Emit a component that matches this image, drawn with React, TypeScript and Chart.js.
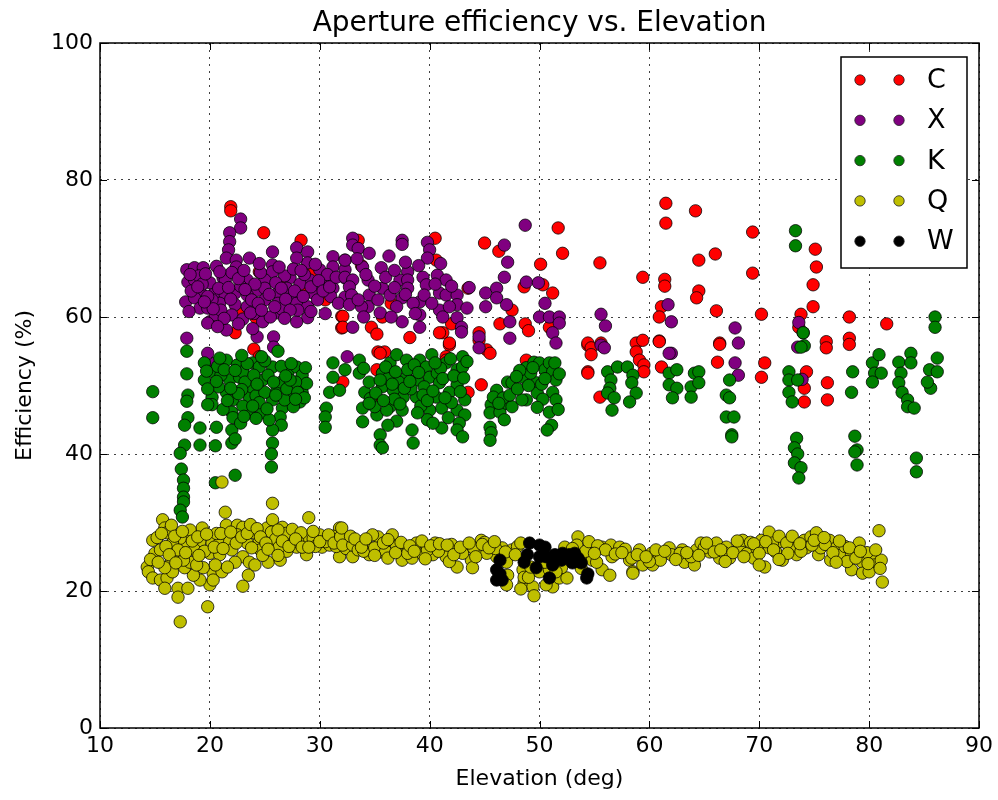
import React, { useEffect, useRef } from "react";
import { Chart, registerables } from "chart.js";
Chart.register(...registerables);

const TITLE = "Aperture efficiency vs. Elevation";
const X_LABEL = "Elevation (deg)";
const Y_LABEL = "Efficiency (%)";
const X_TICKS = [10, 20, 30, 40, 50, 60, 70, 80, 90];
const Y_TICKS = [0, 20, 40, 60, 80, 100];
const SERIES_NAMES = ["C", "X", "K", "Q", "W"];
const SERIES_COLORS = ["#ff0000", "#800080", "#008000", "#bfbf00", "#000000"];

const C_POINTS = [[21.9,76.1],[21.9,75.5],[24.9,72.3],[28.3,71.2],[24.5,66.6],[28.3,63.9],[24.2,59.9],[22.3,57.7],[32,60.1],[32,58.4],[24,55.3],[24.5,54.2],[40.5,71.5],[45,70.8],[46.3,69.6],[51.7,73],[52.1,69.3],[50.1,67.7],[40.6,68.3],[43.5,64.2],[48.6,64.4],[50.3,64.7],[51.2,63.5],[33.5,71.2],[32.1,60.1],[32.1,58.5],[34.7,58.5],[35.2,57.5],[35.7,60],[42,59],[41.2,57.7],[41.8,55.9],[41.5,54.2],[44.5,57.7],[45.2,55.2],[45.5,54.7],[46.4,59],[48.7,59],[50.9,58.5],[35.3,54.9],[35.9,54.9],[35.5,54.7],[35.2,52.3],[34.8,47.9],[40.9,57.7],[41.8,56.2],[41.5,53.7],[43.5,49],[44.7,50.1],[44.5,56.6],[48.8,53.7],[54.4,55.9],[54.4,52],[32.1,50.5],[61.5,76.6],[61.5,73.7],[64.2,75.5],[69.4,72.4],[55.5,67.9],[59.4,65.8],[61.4,65.5],[61.4,64.5],[64.5,68.3],[66,69.2],[69.4,66.4],[64.5,63.8],[64.3,62.8],[66.1,60.9],[70.2,60.4],[75.1,69.9],[75.2,67.3],[74.9,64.7],[74.9,61.5],[73.8,60.4],[61.1,61.5],[60.9,60],[60.9,56.5],[78.2,60],[81.6,59],[76.1,56.4],[76.1,55.5],[78.2,56.9],[78.2,56],[73.6,58.5],[66.4,56.2],[58.8,56.2],[59.4,56.6],[54.4,56.2],[54.7,55.5],[55.6,56.2],[54.7,54.5],[54.4,51.8],[55.5,48.3],[58.8,54.9],[59.1,53.7],[59.5,53],[59.5,52],[60.9,56.4],[61.1,52.7],[66.4,56],[66.2,53.4],[70.5,53.3],[70.2,51.2],[74.3,52],[74.1,49.6],[74.1,47.6],[76.2,50.4],[76.2,47.9],[26.8,64.5],[29.5,66.8],[33.8,67.5],[36.5,62],[38.2,57],[30.5,62.5],[47.5,61],[49,58],[23,60.5]];

const X_POINTS = [[22.8,74.3],[22.8,73],[21.8,72.3],[21.8,71],[21.7,69.8],[21.5,68.6],[22.4,68.3],[23.6,68.6],[22.4,67.3],[20.6,67.4],[25.7,69.5],[25.7,67.6],[25.7,66.6],[27.9,70.1],[28.9,69.5],[28.9,67.9],[27.9,68.6],[31.2,68.8],[32.3,68.3],[31.2,67.3],[17.9,66.9],[18.6,67.2],[19.4,67.2],[18,65.1],[18.6,65.4],[19.1,63.9],[17.8,62.2],[18.6,62.8],[19.1,61.3],[19.8,61.3],[20,59.3],[20.5,60.3],[20.5,63.6],[21.2,65.7],[21.4,63.2],[22.3,63.5],[22.3,61.8],[22,60.3],[23.4,61.5],[23.4,65.4],[24.3,63.9],[25,65.4],[25,64.2],[25,62.5],[26.2,63.5],[26.2,62],[26.1,60.6],[24.8,59.3],[27.3,65.7],[27.4,62.9],[27.9,62],[29.1,65.4],[29.4,63.5],[30,66.9],[30.2,64.7],[30.9,65.4],[31.2,64.2],[28.9,61.5],[28.9,59.9],[27.9,59.3],[23.4,63.2],[20.9,62],[21.4,65.4],[17.9,56.9],[19.8,59.1],[19.8,54.7],[21.5,58.1],[24.3,57.1],[25.8,57.1],[25.8,55.6],[32.5,54.2],[32.3,66.9],[32.3,65.7],[32.3,62.9],[20.5,53.3],[19,66],[20,65],[20.2,62.5],[21,61],[22,66.5],[22.8,64.5],[23.8,62.5],[24,60.5],[24.6,66.5],[26.8,66],[27,64.2],[28.2,64.8],[28,61],[29.8,62.5],[30.5,60.5],[31,63],[26.5,61.2],[25.5,60],[23,59.7],[21.3,59.8],[19.3,64.8],[18.3,63.8],[20.8,64.2],[27.6,67],[29.6,67.7],[30.7,66.2],[24.1,64.8],[26,65],[18.2,66.2],[18.9,64.4],[19.6,66.3],[19.8,63],[20.3,61.2],[20.9,66.6],[21.7,64.3],[21.9,62.6],[22.6,65.6],[23.1,66.8],[23.2,64],[23.7,60.6],[24.4,62],[24.7,61],[25.4,63.3],[25.9,61.5],[26.5,64.2],[26.9,62.6],[27.7,63.8],[27.3,61],[28.5,63],[28.6,66.2],[29.2,64.4],[29.9,65.3],[30.3,63.8],[30.9,64.4],[31.5,65.8],[31.7,62],[19.5,62.2],[18.1,60.8],[20.7,58.6],[22.6,59],[23.9,58.3],[26.8,59.8],[29.2,60.8],[24.5,67.8],[26.3,67.3],[28.3,66.8],[33,71.5],[33,70.5],[33.5,70],[34.5,69.3],[32.3,68.3],[36.3,68.9],[35.6,67.2],[33.9,67.3],[37.5,71.2],[37.5,70.6],[39.8,70.9],[40,69.8],[39.8,68.6],[38,66.6],[40.7,66.1],[39.4,65.8],[41.5,65.4],[37.3,65.4],[38,65.4],[32.3,65.8],[33,65.4],[34.4,65.4],[32.7,64.4],[35.7,64.2],[38,64.2],[39.7,64.7],[36.4,63.2],[34.5,63.2],[32.9,63.2],[37.5,62.8],[39.1,62.2],[40.9,63.5],[41.5,63.2],[42.5,63.2],[42.5,61.8],[43.4,61.3],[40.9,61],[39.1,60.3],[37.5,59.3],[39.1,58.5],[42.5,59.9],[42.9,58.5],[42.9,57.8],[34.4,61.5],[33.8,61.5],[35.5,60.6],[33,58.5],[32.7,61.8],[33.4,68.5],[34.2,66.2],[35,64.5],[35.3,62.5],[36,65.8],[36.8,64.3],[37,61.5],[37.8,63.3],[38.5,62],[38.7,60.5],[39.5,63.2],[40.2,62],[40.5,64.8],[41.2,60],[41.8,61.5],[42,64.5],[36.5,60],[34,60],[33.5,62.5],[37.8,68],[39,67.5],[41,67.8],[36.8,66.8],[43.6,64.3],[44.5,57.1],[44.5,55.5],[46.8,70.5],[47.1,68],[46.8,65.8],[47,61.8],[47.3,59.3],[47.3,56.9],[45.1,63.5],[46.1,64.2],[46.1,62.8],[45.1,61.5],[48.7,73.4],[48.8,65.1],[49.9,65],[50.5,62],[50,60],[50.9,60],[51.8,60],[51.8,59.1],[51.2,57.7],[51.5,56.2],[55.6,60.4],[56,58.7],[55.6,55.9],[55.9,55.5],[61.7,61.8],[62,59.3],[62,54.7],[67.8,58.4],[68.1,56.2],[73.5,55.6],[61.8,54.7],[67.8,53.3],[68.1,51.5],[73.9,50.9],[73.6,59.2],[74,57.7]];

const K_POINTS = [[14.8,49.1],[14.8,45.3],[17.9,55],[17.9,51.7],[18,48.6],[17.9,47.7],[18,45.3],[17.7,44.2],[17.7,41.3],[17.3,40.1],[17.4,37.8],[17.6,36.2],[17.6,35],[17.6,33.7],[17.6,33],[17.3,31.8],[17.5,30.8],[19.1,43.8],[19.1,41.3],[20.6,43.9],[20.5,41.2],[22,43.5],[22,41.6],[22.3,42.2],[22.3,36.9],[20.5,35.8],[19.5,53.3],[19.5,50.8],[20.3,52],[21.5,53.7],[22.5,53],[21.5,49],[20.2,48.3],[20.2,47.2],[21.8,50.8],[22.7,51.2],[22.1,47.9],[22,46.1],[22.1,45.3],[23.6,48.3],[23.6,46],[23.8,49.8],[23.9,53.3],[24.5,52.7],[24.8,46],[24.8,50.8],[25.7,52.7],[26.1,49.3],[25.7,47.9],[26.6,46.7],[26.4,45.4],[26.5,44.2],[25.7,43.5],[25.7,41.6],[25.6,40],[25.6,38.1],[26.2,55],[27.1,51.8],[27.5,48.3],[27.9,52.7],[28.4,51.5],[28.4,49],[28.2,47.6],[27.6,46.9],[26.8,47.9],[31.2,53.3],[31.2,51.2],[30.9,49],[30.6,46.7],[30.5,45.4],[30.5,43.9],[31.8,49.3],[32.3,52.3],[21,51.5],[20.8,49.8],[23,52],[23.2,50.5],[24.2,48.5],[24,51.5],[25,49],[25.3,51.5],[26.5,50.5],[27,49.5],[21.2,46.5],[23,47],[24.5,47.5],[28.8,50.3],[19.8,49.5],[22.8,44.5],[27.8,50.5],[25.4,45],[20.7,52.8],[21.3,52.3],[22.3,52.2],[22.9,49.4],[23.4,53.2],[24.3,50.2],[25,53.6],[25.8,50.5],[26.5,52.8],[27.3,50.8],[28,49],[28.6,48.2],[21.6,47.8],[22.6,48.8],[23.9,47],[24.2,45.2],[25.2,46.6],[26,48.6],[26.9,51.4],[27.8,48],[20.6,50.6],[21.9,49.6],[23.1,45.5],[19.7,52.1],[28.7,52.6],[27.4,53.2],[24.7,54.2],[22.9,54.4],[20.9,54],[19.8,47.2],[33.6,53.7],[33.6,51.8],[34.1,49],[33.9,46.7],[33.9,44.7],[35.5,42.8],[35.5,41.3],[35.7,40.9],[35.7,51.8],[35.7,49.8],[35.2,45.7],[36.4,53.3],[37,54.5],[37.9,53.7],[36.7,49.3],[37.6,48.3],[36.4,46.9],[37.5,46.4],[38.4,43.5],[38.5,41.6],[39.1,53.7],[38.9,50.8],[38.8,48.3],[39.7,52.7],[40,51.2],[40.2,54.5],[40.7,51.8],[40.6,48.3],[41.1,46.7],[41.1,43.8],[40,46.4],[41.5,53.3],[40.9,50.4],[42.5,52.3],[43,54.2],[43,52.7],[42.5,50.1],[43.2,47.9],[42.5,46.4],[43.2,45.7],[42.7,44.5],[42.5,43.5],[43,42.5],[37.9,51.2],[36.1,46.4],[35,46.9],[36.2,51],[37.2,50.5],[38.3,49.5],[39.5,49.8],[41.8,49],[39.2,47],[36.8,48],[38,52.3],[41,52.5],[42,47.5],[34.5,50.5],[39.8,45],[34,52.5],[34.6,48.1],[35.1,48.9],[35.5,50.8],[36,52.7],[36.6,50.2],[36.9,52],[37.3,47.3],[37.7,49.6],[38.2,50.6],[38.6,53],[39,51.9],[39.4,48.6],[39.8,47.8],[40.3,49.2],[40.5,53.3],[41.2,51],[41.4,48.2],[41.9,53.9],[42.2,51.4],[42.8,49.1],[43.1,51.1],[37,44.8],[38.9,46],[40.3,44.5],[41.7,45.3],[36.2,44.2],[34.5,47.4],[35.8,47.8],[43.4,53.5],[45.6,47.2],[45.5,46],[45.5,43.9],[45.6,43.1],[45.5,42],[46.1,49.3],[46.4,46.1],[46.8,45],[47.1,50.5],[47.5,50.4],[47,47.4],[47.5,46.9],[48.8,52.6],[48.5,51.2],[48.8,47.9],[48.4,47.9],[49.5,53.4],[50,53.3],[50.5,52.3],[49.7,50.4],[49.8,48.9],[50.9,53.3],[51.2,52],[51.5,50.8],[51.2,49],[51.5,47.9],[50.9,46.1],[51.1,44.2],[50.7,43.5],[49.2,51.8],[50.2,50.2],[45.8,48.3],[46.7,48.2],[47.3,48.6],[48,49.5],[48.2,52.2],[49,50],[49.4,52.6],[50.3,48],[50.5,51],[51.4,53.3],[51.8,51.7],[49.8,46.8],[47.9,51.3],[46.3,47.4],[51.7,46.5],[56.2,52],[56.5,50.8],[56.4,49.6],[56.2,48.9],[56.8,48.2],[56.6,46.4],[57.1,52.7],[58,52.7],[58.5,51.5],[58.4,50.4],[58.8,48.9],[58.2,47.6],[61.8,51.8],[62.5,52.3],[61.8,50.1],[62.5,49.6],[62.1,48.2],[64.1,51.8],[64.5,52],[63.8,49.8],[64.5,50.4],[63.8,48.3],[67.3,50.8],[67,48.6],[67.3,48.2],[67,45.4],[67.7,45.4],[67.5,42.8],[67.5,42.5],[72.7,52],[72.7,50.8],[73.5,50.8],[72.7,49],[73,47.6],[73.4,42.3],[73.2,40.9],[73.5,40],[73.2,38.7],[73.8,38],[73.6,36.5],[78.5,52],[78.4,49],[78.7,42.6],[78.9,40.6],[78.7,40.3],[78.9,38.4],[80.3,53.3],[80.9,54.5],[80.5,51.8],[80.3,50.5],[81.1,51.8],[82.7,53.4],[82.9,51.8],[82.7,50.4],[83.8,54.7],[83.8,53.3],[83,49],[83.5,47.9],[83.5,46.9],[84.1,46.7],[84.3,39.4],[84.3,37.4],[85.5,52.3],[86.2,54],[86.2,52],[85.6,49.6],[85.3,50.5],[73.3,72.6],[73.3,70.4],[86,60],[86,58.5],[74,57.7],[74.1,55.8],[73.8,55.6]];

const Q_POINTS = [[21.4,31.5],[25.7,32.8],[29,30.7],[15.7,30.4],[15.9,29.2],[14.8,27.4],[15,25.5],[14.3,23.5],[14.4,22.8],[14.8,21.9],[15.5,21.6],[16.1,21.9],[15.9,20.4],[17.1,20.4],[17.1,19.1],[18,20.4],[17.3,15.5],[19.8,17.7],[20,20.9],[20.3,22.6],[19.4,23.4],[19.1,21.6],[18.5,22.3],[17.7,23.4],[16.5,24.2],[17,25.5],[17.9,26.7],[18,28.5],[17.3,27.7],[16.6,27],[16.1,28.5],[15.5,26],[19.1,27.2],[19.3,29.2],[20.2,27],[20,25.5],[20.9,25.3],[20.9,27],[21.5,29.6],[22.5,29.6],[23,29.3],[22.5,28.2],[23.4,27],[23,25],[23.6,24.2],[23.5,22.3],[23,20.7],[24.1,23.8],[24.5,27.4],[25.2,29.2],[25.7,30.4],[25.6,28.6],[25.7,27],[25.3,24.2],[26.4,24.5],[26.6,29.3],[27.1,27.4],[27.9,26.4],[28.9,27.7],[28.8,25.3],[30,28.2],[30.2,26.4],[31.8,29.2],[31.8,25],[30.9,26.7],[32.5,27.4],[18.2,24.2],[18.8,23.8],[16.6,22.8],[15.9,23.4],[17.6,24.5],[16.5,29.6],[18.2,28.9],[17.1,26],[21.1,22.8],[20.5,23.8],[20.3,21.6],[21.1,35.9],[15.2,27.8],[16,26.5],[16.8,28],[18.6,26],[19.5,25.8],[21.8,27.2],[22,26],[24,28.5],[24.6,26],[26,27.6],[26.9,28.4],[27.5,29],[28.3,28.5],[29.4,27.6],[29.6,26.5],[30.5,27.2],[31.2,28],[31.5,26.5],[27,25.8],[22.3,24.2],[21.6,23.5],[24.8,25.2],[28,27.2],[26.3,26.4],[23.8,26.3],[20.6,28.4],[14.6,24.6],[15.3,24.2],[15.6,28.4],[16.3,25.3],[16.9,24.1],[17.5,28.7],[17.8,25.6],[18.4,27.3],[18.9,27.9],[19,25.2],[19.7,28.3],[20.4,26.4],[21.2,26.2],[21,28.4],[21.9,28.6],[22.4,27],[22.9,27.9],[23.4,28.4],[23.7,29.7],[24.3,29.1],[24.6,27.9],[25.1,27],[25.3,26.1],[26.2,28.9],[26.6,27.3],[26.2,25.2],[27.2,26.5],[27.8,27.6],[28.4,26.4],[29,26.4],[29.4,28.7],[30,27.2],[30.8,28.2],[31.3,27],[31.9,27.9],[32.4,26.2],[32,29.2],[32.1,26.7],[33,25],[33,26.7],[33.9,27.2],[34.5,26.4],[35.3,27.9],[34.5,25.3],[35.5,25.7],[36.6,28.2],[36.6,26.7],[37.5,24.5],[37.9,26.3],[39.1,26.3],[38.4,24.8],[39.4,25.3],[40.5,27],[40.3,25.3],[41.2,26.3],[41.5,25],[42.5,26],[42.5,23.5],[43.4,26.4],[43.8,24.5],[43.9,23.4],[44.7,27.4],[44.5,25.7],[45.7,26.7],[46.1,25],[46.6,26.3],[47,24.2],[47.1,22.3],[47,20.9],[47.5,26],[48.5,23.1],[48.6,21.2],[49.4,20.6],[49.5,19.3],[48.6,22],[50,22.8],[50.9,23.1],[51.2,20.6],[51.8,21.9],[52.5,21.9],[52,23.4],[53.5,27.9],[53.4,26.7],[53.9,25.3],[54.8,26.3],[55.7,26.4],[55.7,23.1],[56.5,26.7],[56.6,25],[57.3,26.4],[56.4,22.3],[58.2,24.5],[58.5,22.8],[54.8,24.5],[33.5,26],[34,25.8],[35,26.3],[36,25.8],[37,26.5],[38,25.5],[39.8,26],[40.8,25.8],[42,26.8],[43,25.5],[44,26.3],[45.2,25.5],[46,26.2],[36.2,24.8],[41.8,24.3],[38.8,27],[48,26.5],[45,27.1],[32.8,28],[34.8,28.2],[33.2,27.6],[33.8,26.4],[34.2,27.6],[35,25.2],[35.8,27],[36.2,27.5],[36.9,25.6],[37.4,27.1],[38.2,26.6],[38.6,25.8],[39.3,27.3],[39.6,24.7],[40.1,26.6],[40.9,26.9],[41.6,26.7],[42.2,25.3],[42.8,26.4],[43.6,27],[44.2,25],[44.8,26.8],[45.4,26.3],[45.9,27.2],[46.9,25.7],[47.8,25.3],[48.3,27],[52.3,26.4],[53,26.2],[54.2,25.8],[54.5,27.2],[55.3,26.6],[56,26],[56.9,25.4],[57.8,26.1],[55.2,24.2],[53.8,23.3],[48.3,20.3],[50.6,20.9],[49,22],[51.5,22.8],[58.4,24.8],[58.5,22.6],[59.1,26],[59.4,23.8],[60.2,25.5],[60.3,23.8],[60.9,25],[61.8,26.3],[62,25.3],[63,26],[63.2,24.2],[64.1,23.8],[64.3,26],[64.7,27],[65.5,25.7],[66.1,27],[66.4,24.8],[67,26.4],[67.3,24.8],[68.2,26.4],[68.5,27.4],[68.9,25.5],[69.5,24.8],[70.2,27.4],[70.9,28.6],[70.5,23.5],[70.9,26.3],[71.5,25.7],[72.1,27.2],[72.1,24.5],[73.2,27],[73.4,25.3],[74.1,27.4],[74.7,27.9],[75.2,28.5],[75.4,25.3],[75.6,26.3],[76.4,27.4],[76.5,24.5],[77,26.3],[77.5,25.3],[78.4,25.3],[78.4,23.1],[79.1,27],[79.4,24.2],[79.4,22.6],[80.2,25.3],[80.5,23.8],[80.9,28.8],[81.1,24.5],[81.2,21.3],[80,22.8],[61,24.5],[62.8,25.5],[65,26.3],[66.8,25.6],[69.8,26.2],[71.2,27],[72.8,26.3],[74.3,26.3],[76,26.8],[77.8,26.5],[73.8,25.8],[69.2,27.1],[78,24.3],[79.8,25.6],[60,24.3],[63.8,25],[57.5,25.6],[55,25.5],[52.8,24.5],[50.5,24.2],[49.2,23.5],[58.9,25.3],[59.7,25],[60.6,26],[61.4,25.8],[62.4,24.6],[63.4,25.6],[64.5,25.2],[65.2,27],[65.9,25.7],[66.5,26],[67.6,25.6],[68,27.3],[68.6,25],[69.5,26.9],[70,25.5],[70.6,27.2],[71.3,26],[71.8,28],[72.5,27],[72.6,25.5],[73,28],[73.7,26.9],[74.8,26.7],[75,27.4],[75.9,27.8],[76.7,25.6],[77.3,27.3],[78.2,26.3],[78.8,24.8],[79.2,25.8],[80.6,26],[81,23.3],[79.9,24],[77,24.2],[71.8,24.6],[70,23.8],[66.9,24.3]];

const W_POINTS = [[49.1,27],[48.9,25.3],[48.6,24.2],[46.4,24.5],[46.1,23.1],[46.1,21.6],[46.6,21.6],[50,26.7],[50.5,26.4],[50,25],[50.6,25],[51.4,25.3],[52.1,25.5],[52.7,25.3],[53.5,24.8],[53,24.1],[53.8,24.1],[50.9,21.9],[54.3,21.9],[49.7,23.4],[51.2,23.8],[52,24.5],[46.4,22.5],[51.7,24.8],[53.2,25.5],[54.4,22.5]];

const SERIES_POINTS = [C_POINTS, X_POINTS, K_POINTS, Q_POINTS, W_POINTS];

const FONT = "'DejaVu Sans', 'Liberation Sans', sans-serif";

const framePlugin = {
  id: "frame",
  afterDatasetsDraw(chart: any) {
    const { ctx, chartArea: a, scales } = chart;
    ctx.save();
    ctx.strokeStyle = "#000";
    ctx.lineWidth = 1;
    const tl = 7;
    ctx.beginPath();
    for (const v of X_TICKS) {
      const x = Math.round(scales.x.getPixelForValue(v)) + 0.5;
      ctx.moveTo(x, a.bottom); ctx.lineTo(x, a.bottom - tl);
      ctx.moveTo(x, a.top); ctx.lineTo(x, a.top + tl);
    }
    for (const v of Y_TICKS) {
      const y = Math.round(scales.y.getPixelForValue(v)) + 0.5;
      ctx.moveTo(a.left, y); ctx.lineTo(a.left + tl, y);
      ctx.moveTo(a.right, y); ctx.lineTo(a.right - tl, y);
    }
    ctx.stroke();
    ctx.lineWidth = 1.5;
    ctx.strokeRect(a.left, a.top, a.right - a.left, a.bottom - a.top);

    const bx = 841, by = 57, bw = 126, bh = 211;
    ctx.fillStyle = "#fff";
    ctx.fillRect(bx, by, bw, bh);
    ctx.lineWidth = 1.5;
    ctx.strokeRect(bx, by, bw, bh);
    ctx.font = `27px ${FONT}`;
    ctx.textBaseline = "middle";
    ctx.textAlign = "left";
    SERIES_NAMES.forEach((name, i) => {
      const y = 80 + i * 40.3;
      for (const mx of [860, 899]) {
        ctx.beginPath();
        ctx.arc(mx, y, 5.2, 0, Math.PI * 2);
        ctx.fillStyle = SERIES_COLORS[i];
        ctx.fill();
        ctx.lineWidth = 0.8;
        ctx.strokeStyle = "#222";
        ctx.stroke();
      }
      ctx.fillStyle = "#000";
      ctx.fillText(name, 927, y + 1);
    });
    ctx.restore();
  },
};

export default function App() {
  const ref = useRef<HTMLCanvasElement>(null);
  useEffect(() => {
    document.body.style.margin = "0";
    const canvas = ref.current!;
    Chart.defaults.font.family = FONT;
    Chart.defaults.color = "#000";
    const order = [5, 4, 3, 2, 1];
    const chart = new Chart(canvas, {
      type: "scatter",
      data: {
        datasets: SERIES_NAMES.map((name, i) => ({
          label: name,
          data: SERIES_POINTS[i].map(([x, y]) => ({ x, y })),
          backgroundColor: SERIES_COLORS[i],
          borderColor: "rgba(0,0,0,0.85)",
          borderWidth: 0.9,
          pointRadius: 6.2,
          order: order[i],
        })),
      },
      options: {
        animation: false,
        responsive: false,
        devicePixelRatio: 1,
        layout: { padding: { top: 0, right: 18, bottom: 0, left: 0 } },
        plugins: {
          legend: { display: false },
          tooltip: { enabled: false },
          title: {
            display: true,
            text: TITLE,
            fullSize: false,
            color: "#000",
            font: { size: 28, weight: "normal", family: FONT },
            padding: { top: 7, bottom: 2.4 },
          },
        },
        scales: {
          x: {
            type: "linear",
            min: 10,
            max: 90,
            afterBuildTicks: (s: any) => { s.ticks = X_TICKS.map((v) => ({ value: v })); },
            afterFit: (s: any) => { s.height = 72; },
            ticks: { font: { size: 22 }, padding: 5, color: "#000", maxRotation: 0 },
            grid: { color: "rgba(0,0,0,0.75)", lineWidth: 1, drawTicks: false } as any,
            border: { display: false, dash: [2, 5] },
            title: { display: true, text: X_LABEL, font: { size: 22 }, color: "#000", padding: { top: 0, bottom: 8 } },
          },
          y: {
            type: "linear",
            min: 0,
            max: 100,
            afterBuildTicks: (s: any) => { s.ticks = Y_TICKS.map((v) => ({ value: v })); },
            afterFit: (s: any) => { s.width = 100; },
            ticks: { font: { size: 22 }, padding: 7, color: "#000" },
            grid: { color: "rgba(0,0,0,0.75)", lineWidth: 1, drawTicks: false } as any,
            border: { display: false, dash: [2, 5] },
            title: { display: true, text: Y_LABEL, font: { size: 22 }, color: "#000", padding: { top: 12, bottom: 0 } },
          },
        },
      },
      plugins: [framePlugin],
    });
    return () => chart.destroy();
  }, []);
  return (
    <div style={{ width: 998, height: 800, background: "#fff" }}>
      <canvas ref={ref} width={998} height={800} style={{ display: "block" }} />
    </div>
  );
}
